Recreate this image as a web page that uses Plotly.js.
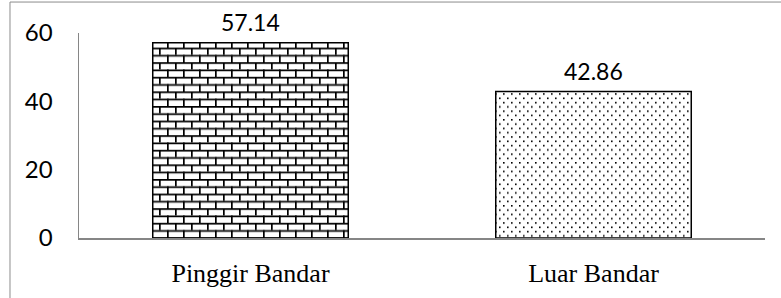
<!DOCTYPE html>
<html><head><meta charset="utf-8">
<script src="https://cdn.plot.ly/plotly-3.0.1.min.js"></script>
<style>html,body{margin:0;padding:0;background:#fff}#chart{width:781px;height:298px}</style>
</head><body><div id="chart"></div>
<script>
const categories = ['Pinggir Bandar', 'Luar Bandar'];
const values = [57.14, 42.86];
const valueLabels = ['57.14', '42.86'];
const yTickValues = [0, 20, 40, 60];
const yTickLabels = ['0', '20', '40', '60'];

const trace = {
  type: 'bar', x: categories, y: values,
  marker: {color: '#fff', line: {color: '#000', width: 1.5},
    pattern: {shape: ['+', '.'], fgcolor: '#000', bgcolor: '#fff', size: 8, solidity: 0.2}},
  hoverinfo: 'skip'
};

const valueAnnotations = categories.map((c, i) => ({
  x: c, y: values[i], xref: 'x', yref: 'y', text: valueLabels[i], showarrow: false,
  yanchor: 'bottom', yshift: 5,
  font: {family: 'Lato, Carlito, sans-serif', size: 23, color: '#000'}
}));

const layout = {
  width: 781, height: 298,
  margin: {l: 79, r: 16, t: 33, b: 60},
  paper_bgcolor: '#fff', plot_bgcolor: '#fff', showlegend: false,
  bargap: 0.43,
  xaxis: {showline: true, linecolor: '#868686', linewidth: 1.5, ticks: '', showgrid: false, zeroline: false,
    tickfont: {family: '"Liberation Serif", "Times New Roman", serif', size: 26, color: '#000'}, ticklabelstandoff: 11},
  yaxis: {range: [0, 60], tickvals: yTickValues, ticktext: yTickLabels, showline: true, linecolor: '#868686', linewidth: 1.5,
    ticks: '', showgrid: false, zeroline: false,
    tickfont: {family: 'Lato, Carlito, sans-serif', size: 24, color: '#000'}, ticklabelstandoff: 20},
  annotations: valueAnnotations,
  shapes: [{type: 'rect', xref: 'paper', yref: 'paper', x0: -0.1006, x1: 1.06, y0: -0.4, y1: 1.151,
    line: {color: '#8c8c8c', width: 1}, fillcolor: 'rgba(0,0,0,0)', layer: 'above'}]
};

function patchPatterns(gd) {
  const ns = 'http://www.w3.org/2000/svg';
  const paths = gd.querySelectorAll('.barlayer .point path');
  paths.forEach((p, i) => {
    const fill = p.style.fill || p.getAttribute('fill') || '';
    const m = fill.match(/#([^'")\s]+)/);
    if (!m) return;
    const pat = document.getElementById(m[1]);
    if (!pat) return;
    while (pat.firstChild) pat.removeChild(pat.firstChild);
    pat.removeAttribute('patternTransform');
    const add = (x, y, w, h, c) => {
      const r = document.createElementNS(ns, 'rect');
      r.setAttribute('x', x); r.setAttribute('y', y); r.setAttribute('width', w); r.setAttribute('height', h);
      r.setAttribute('fill', c); pat.appendChild(r);
    };
    if (i === 0) {
      pat.setAttribute('width', 16); pat.setAttribute('height', 14.6);
      add(0, 0, 16, 14.6, '#fff');
      add(0, 0, 16, 1.7, '#000');
      add(0, 7.3, 16, 1.7, '#000');
      add(0, 0, 1.7, 7.3, '#000');
      add(8, 7.3, 1.7, 7.3, '#000');
    } else {
      pat.setAttribute('width', 8); pat.setAttribute('height', 8.6);
      add(0, 0, 8, 8.6, '#fff');
      add(0, 0, 1.6, 1.6, '#000');
      add(4, 4.3, 1.6, 1.6, '#000');
    }
  });
}

Plotly.newPlot('chart', [trace], layout, {staticPlot: true, displayModeBar: false}).then(gd => patchPatterns(gd));
</script>
</body></html>
